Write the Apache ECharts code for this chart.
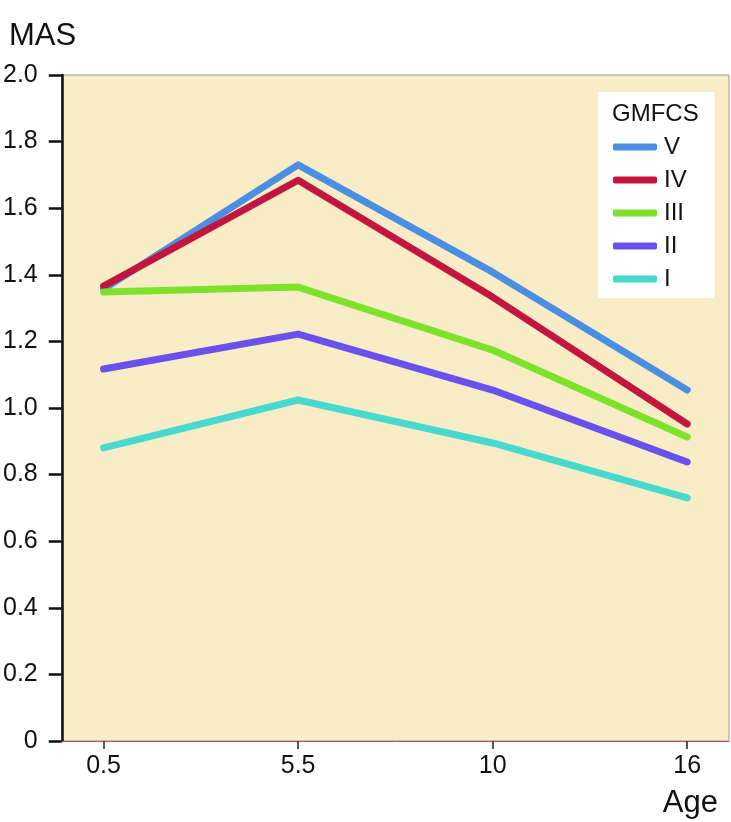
<!DOCTYPE html>
<html>
<head>
<meta charset="utf-8">
<script src="https://cdn.jsdelivr.net/npm/echarts@6/dist/echarts.min.js"></script>
<style>
html, body { margin: 0; padding: 0; background: #fff; }
#chart { width: 731px; height: 822px; }
</style>
</head>
<body>
<div id="chart"></div>
<script>
// age groups (shown as evenly spaced ticks)
const ages = ['0.5', '5.5', '10', '16'];
const levels = ['V', 'IV', 'III', 'II', 'I'];

// MAS per GMFCS level
const masV = [1.357, 1.73, 1.408, 1.054];
const masIV = [1.366, 1.684, 1.333, 0.952];
const masIII = [1.348, 1.363, 1.174, 0.913];
const masII = [1.117, 1.222, 1.054, 0.838];
const masI = [0.88, 1.024, 0.895, 0.73];

const yTicks = [0, 0.2, 0.4, 0.6, 0.8, 1.0, 1.2, 1.4, 1.6, 1.8, 2.0];

const colors = ['#4a8fe2', '#c3163f', '#7ee22c', '#6a50ec', '#47d9cd'];
const seriesValues = [masV, masIV, masIII, masII, masI];

const chart = echarts.init(document.getElementById('chart'));
const font = 'Liberation Sans, Arial, Helvetica, sans-serif';

const option = {
    backgroundColor: '#ffffff',
    animation: false,
    title: [
        { text: 'MAS', left: 4, top: 16, textStyle: { fontSize: 31, fontWeight: 'normal', color: '#111', fontFamily: font } },
        { text: 'Age', right: 8, top: 783, textStyle: { fontSize: 31, fontWeight: 'normal', color: '#111', fontFamily: font } },
        { text: 'GMFCS', left: 607, top: 97, textStyle: { fontSize: 24, fontWeight: 'normal', color: '#111', fontFamily: font } }
    ],
    legend: {
        data: levels,
        orient: 'vertical',
        left: 598,
        top: 92,
        padding: [43, 28, 7, 15],
        backgroundColor: '#ffffff',
        itemWidth: 44,
        itemHeight: 7,
        itemGap: 9,
        icon: 'roundRect',
        textStyle: { fontSize: 24, lineHeight: 24, color: '#111', fontFamily: font, padding: [0, 0, 0, 2] }
    },
    grid: {
        left: 58, right: 2, top: 75, bottom: 81,
        show: true,
        backgroundColor: '#f8edc7',
        borderColor: '#8f9c9c',
        borderWidth: 1
    },
    xAxis: {
        type: 'value',
        min: -0.215,
        max: 3.215,
        splitLine: { show: false },
        axisLine: { onZero: false, lineStyle: { color: '#c8505a', width: 1 } },
        axisTick: { show: true, customValues: [0, 1, 2, 3], length: 8, lineStyle: { color: '#222', width: 1.5 } },
        axisLabel: {
            customValues: [0, 1, 2, 3],
            formatter: v => ages[Math.round(v)],
            margin: 13,
            fontSize: 25,
            color: '#111',
            fontFamily: font
        }
    },
    yAxis: {
        type: 'value',
        min: 0,
        max: 2,
        interval: 0.2,
        splitLine: { show: false },
        axisLine: { show: true, onZero: false, lineStyle: { color: '#111', width: 2.5 } },
        axisTick: { show: true, length: 13, lineStyle: { color: '#111', width: 2.5 } },
        axisLabel: {
            formatter: v => {
                const t = yTicks.find(x => Math.abs(x - v) < 1e-6);
                return t === 0 ? '0' : (t !== undefined ? t.toFixed(1) : '');
            },
            margin: 24,
            fontSize: 25,
            color: '#111',
            fontFamily: font
        }
    },
    series: levels.map((name, i) => ({
        name: name,
        type: 'line',
        data: seriesValues[i].map((v, j) => [j, v]),
        showSymbol: false,
        symbol: 'none',
        color: colors[i],
        lineStyle: { width: 7, color: colors[i], cap: 'round', join: 'round' }
    }))
};

chart.setOption(option);
</script>
</body>
</html>
